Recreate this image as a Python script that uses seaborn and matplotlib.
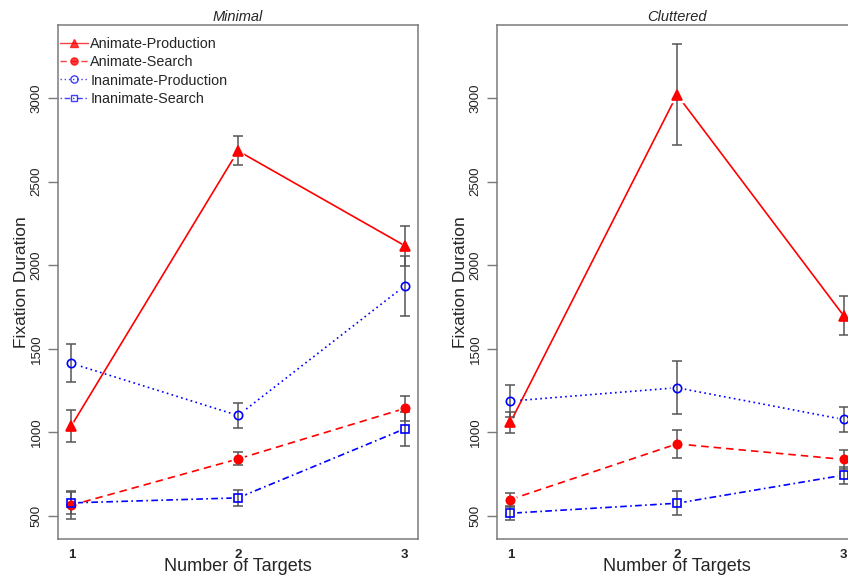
import matplotlib
matplotlib.use("Agg")
import matplotlib.pyplot as plt
import seaborn as sns
import pandas as pd

# Number of targets on the x axis
targets = [1, 2, 3]

# Mean fixation durations (ms) and error-bar half widths, Minimal display
minimal_animate_production = [1039, 2684, 2117]
minimal_animate_production_err = [97, 86, 120]
minimal_animate_search = [564, 841, 1143]
minimal_animate_search_err = [85, 39, 74]
minimal_inanimate_production = [1413, 1101, 1876]
minimal_inanimate_production_err = [114, 73, 177]
minimal_inanimate_search = [578, 608, 1021]
minimal_inanimate_search_err = [64, 48, 102]

# Cluttered display
cluttered_animate_production = [1059, 3020, 1698]
cluttered_animate_production_err = [60, 303, 118]
cluttered_animate_search = [598, 931, 838]
cluttered_animate_search_err = [42, 83, 57]
cluttered_inanimate_production = [1187, 1267, 1077]
cluttered_inanimate_production_err = [96, 158, 76]
cluttered_inanimate_search = [516, 576, 744]
cluttered_inanimate_search_err = [42, 72, 50]

series_names = ["Animate-Production", "Animate-Search",
                "Inanimate-Production", "Inanimate-Search"]
panel_titles = ["Minimal", "Cluttered"]
y_ticks = [500, 1000, 1500, 2000, 2500, 3000]

panels = {
    "Minimal": [
        (minimal_animate_production, minimal_animate_production_err),
        (minimal_animate_search, minimal_animate_search_err),
        (minimal_inanimate_production, minimal_inanimate_production_err),
        (minimal_inanimate_search, minimal_inanimate_search_err),
    ],
    "Cluttered": [
        (cluttered_animate_production, cluttered_animate_production_err),
        (cluttered_animate_search, cluttered_animate_search_err),
        (cluttered_inanimate_production, cluttered_inanimate_production_err),
        (cluttered_inanimate_search, cluttered_inanimate_search_err),
    ],
}

styles = {
    "Animate-Production": dict(color="#FF0000", ls="-", marker="^", mfc="#FF0000", ms=6.5),
    "Animate-Search": dict(color="#FF0000", ls=(0, (4.5, 3)), marker="o", mfc="#FF0000", ms=6.0),
    "Inanimate-Production": dict(color="#0000FF", ls=(0, (1, 2)), marker="o", mfc="none", ms=6.0),
    "Inanimate-Search": dict(color="#0000FF", ls=(0, (1, 2, 4, 2)), marker="s", mfc="none", ms=5.3),
}

rows = []
for panel, series in panels.items():
    for name, (vals, errs) in zip(series_names, series):
        for t, v, e in zip(targets, vals, errs):
            rows.append(dict(panel=panel, series=name, targets=t, duration=v, err=e))
df = pd.DataFrame(rows)

sns.set_theme(style="white")
plt.rcParams["font.family"] = ["Liberation Sans", "DejaVu Sans"]

fig = plt.figure(figsize=(8.48, 5.77), dpi=100)
ax_w = 360 / 848
ax_h = (539 - 25) / 577
ax_b = (577 - 539) / 577
positions = [58 / 848, 497 / 848]

frame_grey = "#7a7a7a"
for title, left in zip(panel_titles, positions):
    ax = fig.add_axes([left, ax_b, ax_w, ax_h])
    sub = df[df["panel"] == title]
    for name in series_names:
        d = sub[sub["series"] == name]
        st = styles[name]
        # line segments
        sns.lineplot(data=d, x="targets", y="duration", ax=ax, color=st["color"],
                     linestyle=st["ls"], linewidth=1.2, estimator=None,
                     errorbar=None, sort=False, zorder=2)
        # small white halo so the line stops short of each point
        ax.plot(d["targets"], d["duration"], ls="none", marker=st["marker"],
                ms=st["ms"] + 3, mfc="white", mec="white", zorder=3)
    for name in series_names:
        d = sub[sub["series"] == name]
        ax.errorbar(d["targets"], d["duration"], yerr=d["err"], fmt="none",
                    ecolor="#555555", elinewidth=1.1, capsize=3.6,
                    capthick=1.1, zorder=4)
    for name in series_names:
        d = sub[sub["series"] == name]
        st = styles[name]
        ax.plot(d["targets"], d["duration"], ls="none", marker=st["marker"],
                ms=st["ms"], mfc=st["mfc"], mec=st["color"], mew=1.2, zorder=5,
                label=name)

    ax.set_xlim(0.92, 3.08)
    ax.set_ylim(362, 3437)
    ax.set_xticks(targets)
    ax.set_xticklabels([str(t) for t in targets], fontweight="bold", fontsize=9.5)
    ax.set_yticks(y_ticks)
    ax.set_yticklabels([str(v) for v in y_ticks], rotation=90, va="center",
                       fontsize=9.5, color="#222222")
    ax.tick_params(axis="x", length=0, pad=7)
    ax.tick_params(axis="y", length=7, width=1, color=frame_grey, pad=4,
                   left=True, direction="out")
    for sp in ax.spines.values():
        sp.set_color(frame_grey)
        sp.set_linewidth(1.1)
    ax.set_xlabel("Number of Targets", fontsize=13, labelpad=-2)
    ax.set_ylabel("Fixation Duration", fontsize=12.5, labelpad=1)
    ax.set_title(title, fontstyle="italic", fontsize=10.5, pad=3)
    ax.grid(False)

    if title == "Minimal":
        handles = []
        for name in series_names:
            st = styles[name]
            h, = ax.plot([], [], color=st["color"], ls=st["ls"], lw=1.0, alpha=0.75,
                         marker=st["marker"], ms=st["ms"] - 0.8,
                         mfc=st["mfc"], mec=st["color"], label=name)
            handles.append(h)
        ax.legend(handles=handles, loc="upper left", frameon=False, fontsize=10.4,
                  handlelength=1.95, handletextpad=0.13, labelspacing=0.28,
                  borderaxespad=0.0, borderpad=0.15,
                  bbox_to_anchor=(0.0, 0.98))

fig.savefig("out.png", dpi=100)
